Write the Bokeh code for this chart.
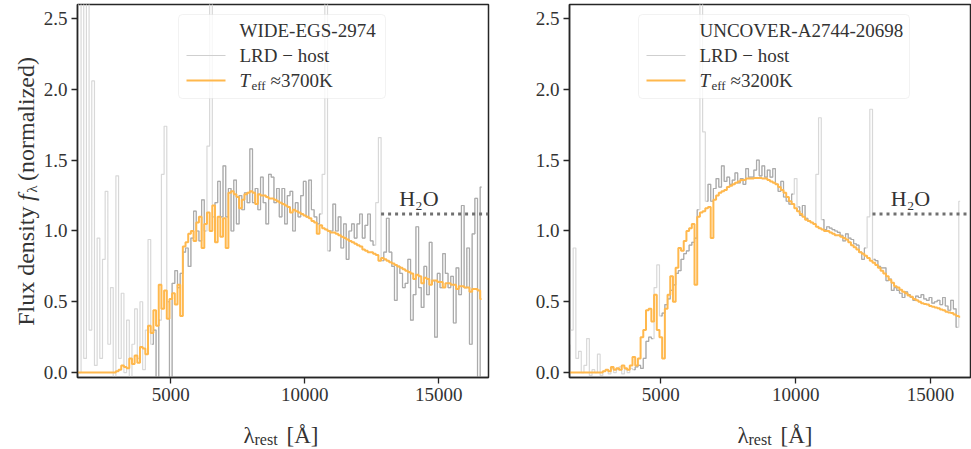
import math
import numpy as np
from bokeh.plotting import figure
from bokeh.layouts import row, column
from bokeh.models import Range1d, FixedTicker, PrintfTickFormatter, Label, BoxAnnotation
from bokeh.embed import file_html
from bokeh.resources import INLINE

# ---------------- data ----------------
wave = [
    1500, 1600, 1700, 1800, 1900, 2000, 2100, 2200, 2300, 2400,
    2500, 2600, 2700, 2800, 2900, 3000, 3100, 3200, 3300, 3400,
    3500, 3600, 3700, 3800, 3900, 4000, 4100, 4200, 4300, 4400,
    4500, 4600, 4700, 4800, 4900, 5000, 5100, 5200, 5300, 5400,
    5500, 5600, 5700, 5800, 5900, 6000, 6100, 6200, 6300, 6400,
    6500, 6600, 6700, 6800, 6900, 7000, 7100, 7200, 7300, 7400,
    7500, 7600, 7700, 7800, 7900, 8000, 8100, 8200, 8300, 8400,
    8500, 8600, 8700, 8800, 8900, 9000, 9100, 9200, 9300, 9400,
    9500, 9600, 9700, 9800, 9900, 10000, 10100, 10200, 10300, 10400,
    10500, 10600, 10700, 10800, 10900, 11000, 11100, 11200, 11300, 11400,
    11500, 11600, 11700, 11800, 11900, 12000, 12100, 12200, 12300, 12400,
    12500, 12600, 12700, 12800, 12900, 13000, 13100, 13200, 13300, 13400,
    13500, 13600, 13700, 13800, 13900, 14000, 14100, 14200, 14300, 14400,
    14500, 14600, 14700, 14800, 14900, 15000, 15100, 15200, 15300, 15400,
    15500, 15600, 15700, 15800, 15900, 16000, 16100, 16200, 16300, 16400,
    16500, 16600, 16700,
]
nan = float("nan")

# WIDE-EGS-2974
egs_lrd = [
    2.9, 0.0, 3.0, 0.1, 2.8, 0.3, 2.06, 0.05, 0.95, 0.1,
    0.8, 1.28, 0.2, 0.6, -0.05, 1.39, 0.1, 0.56, 0.0, 0.37,
    -0.05, 0.2, 0.45, 0.1, 0.5, 0.02, 0.3, 0.94, 0.2, 0.3,
    -0.05, 0.37, 1.40, 1.74, 0.5, -0.04, 0.63, 0.72, 0.6, 0.7,
    0.85, 0.88, 0.75, 0.95, 1.14, 1.0, 0.93, 1.22, 1.0, 1.6,
    3.0, 1.1, 1.2, 1.35, 1.1, 1.46, 1.1, 1.3, 1.0, 1.36,
    1.05, 1.25, 1.15, 1.27, 1.2, 1.58, 1.2, 1.3, 1.15, 1.38,
    1.2, 1.05, 1.4, 1.38, 1.2, 1.3, 1.1, 1.3, 1.05, 1.25,
    1.28, 1.0, 1.2, 1.1, 1.25, 1.35, 1.1, 1.36, 1.15, 1.1,
    1.05, 1.12, 1.4, 3.0, 0.86, 1.0, 1.19, 1.0, 1.1, 0.88,
    1.05, 0.8, 1.0, 1.05, 0.95, 1.05, 1.12, 0.95, 1.04, 1.12,
    0.93, 0.9, 1.2, 1.66, 0.79, 0.85, 1.09, 0.85, 0.75, 0.51,
    0.75, 0.70, 0.6, 0.63, 0.8, 0.37, 0.55, 1.03, 0.6, 0.46,
    0.75, 0.55, 0.92, 0.65, 0.25, 0.7, 0.6, 0.84, 0.7, 0.6,
    0.68, 0.35, 0.74, 0.55, 1.18, 0.6, 0.88, 0.2, 0.98, 1.23,
    -0.1, 1.31, nan,
]
egs_model = [
    0, 0, 0, 0, 0, 0, 0, 0, 0, 0,
    0, 0, 0, 0, 0, 0.01, 0.02, 0.05, 0.04, 0.03,
    0.10, 0.06, 0.12, 0.07, 0.18, 0.17, 0.13, 0.33, 0.28, 0.44,
    0.33, 0.62, 0.45, 0.58, 0.38, 0.52, 0.56, 0.48, 0.62, 0.40,
    0.89, 0.92, 0.98, 1.00, 0.93, 1.06, 1.10, 0.88, 1.05, 1.13,
    1.00, 1.18, 0.92, 1.10, 0.96, 1.09, 0.88, 1.27, 1.28, 1.26,
    1.24, 1.16, 1.22, 1.26, 1.27, 1.28, 1.27, 1.19, 1.26, 1.25,
    1.25, 1.24, 1.23, 1.23, 1.22, 1.21, 1.20, 1.19, 1.18, 1.17,
    1.13, 1.15, 1.14, 1.13, 1.12, 1.11, 1.10, 1.09, 1.07, 1.06,
    0.98, 1.04, 1.02, 1.01, 1.00, 0.99, 0.99, 0.98, 0.97, 0.96,
    0.95, 0.94, 0.93, 0.92, 0.91, 0.90, 0.89, 0.87, 0.86, 0.85,
    0.85, 0.84, 0.83, 0.79, 0.81, 0.80, 0.79, 0.78, 0.77, 0.76,
    0.75, 0.74, 0.73, 0.72, 0.71, 0.70, 0.66, 0.69, 0.68, 0.63,
    0.67, 0.66, 0.62, 0.65, 0.65, 0.64, 0.64, 0.60, 0.63, 0.63,
    0.62, 0.62, 0.59, 0.61, 0.61, 0.60, 0.60, 0.57, 0.59, 0.59,
    0.58, 0.52, nan,
]
egs_dark_from = 4300
egs_lines = [(4650, 4850), (6350, 6550), (10650, 10850), (12650, 12850)]

# UNCOVER-A2744-20698
unc_lrd = [
    nan, 0.2, 0.3, 0.88, 0.1, 0.15, 0.0, 0.05, 0.24, -0.02,
    0.02, 0.0, 0.13, -0.02, 0.01, 0.02, -0.01, 0.03, 0.0, 0.02,
    0.04, -0.01, 0.02, 0.0, 0.03, 0.02, 0.04, 0.05, 0.03, 0.10,
    0.22, 0.25, 0.24, 0.60, 0.76, 0.40, 0.42, 0.48, 0.52, 0.58,
    0.62, 0.70, 0.72, 0.80, 0.84, 0.86, 0.90, 0.92, 0.95, 1.15,
    3.0, 1.7, 1.21, 1.33, 1.21, 1.30, 1.37, 1.31, 1.46, 1.35,
    1.38, 1.33, 1.36, 1.41, 1.34, 1.37, 1.33, 1.44, 1.38, 1.38,
    1.43, 1.50, 1.39, 1.46, 1.38, 1.43, 1.38, 1.44, 1.33, 1.28,
    1.35, 1.24, 1.21, 1.19, 1.26, 1.37, 1.17, 1.11, 1.18, 1.09,
    1.07, 1.06, 1.05, 1.40, 1.80, 1.08, 1.01, 1.03, 1.02, 1.01,
    1.00, 0.99, 0.97, 0.93, 0.98, 0.95, 0.94, 0.91, 0.90, 0.85,
    0.80, 0.88, 1.10, 1.86, 0.80, 0.79, 0.75, 0.74, 0.74, 0.65,
    0.66, 0.58, 0.60, 0.58, 0.56, 0.53, 0.57, 0.55, 0.53, 0.51,
    0.54, 0.53, 0.55, 0.52, 0.51, 0.53, 0.49, 0.50, 0.51, 0.48,
    0.53, 0.47, 0.44, 0.51, 0.45, 0.32, 1.21, nan, nan, nan,
    nan, nan, nan,
]
unc_model = [
    nan, 0, 0, 0, 0, 0, 0, 0, 0, 0,
    0, 0, 0, 0, 0.01, 0.02, 0.01, 0.04, 0.02, 0.03,
    0.02, 0.05, 0.03, 0.02, 0.05, 0.11, 0.05, 0.10, 0.25, 0.30,
    0.44, 0.45, 0.36, 0.55, 0.30, 0.25, 0.10, 0.45, 0.55, 0.68,
    0.50, 0.74, 0.88, 0.86, 0.93, 1.00, 1.02, 1.05, 0.62, 1.10,
    1.13, 1.14, 1.16, 1.17, 0.95, 1.22, 1.25, 1.27, 1.28, 1.29,
    1.31, 1.32, 1.33, 1.34, 1.35, 1.36, 1.36, 1.37, 1.37, 1.37,
    1.375, 1.375, 1.375, 1.37, 1.37, 1.36, 1.35, 1.34, 1.33, 1.31,
    1.29, 1.27, 1.24, 1.21, 1.19, 1.16, 1.14, 1.12, 1.10, 1.08,
    1.07, 1.06, 1.05, 1.03, 1.02, 1.01, 1.00, 1.00, 0.99, 0.98,
    0.97, 0.97, 0.96, 0.95, 0.94, 0.92, 0.90, 0.885, 0.87, 0.85,
    0.84, 0.825, 0.81, 0.79, 0.775, 0.76, 0.74, 0.72, 0.70, 0.68,
    0.655, 0.635, 0.61, 0.60, 0.585, 0.57, 0.56, 0.545, 0.535, 0.52,
    0.51, 0.50, 0.49, 0.485, 0.48, 0.47, 0.465, 0.46, 0.455, 0.445,
    0.44, 0.43, 0.425, 0.42, 0.41, 0.40, 0.395, nan, nan, nan,
    nan, nan, nan,
]
unc_dark_from = 4000
unc_lines = [(4750, 4950), (6450, 6650), (9950, 10050), (10750, 10950),
             (12650, 12850), (16050, 16150)]

x_ticks = [5000, 10000, 15000]
y_ticks = [0.0, 0.5, 1.0, 1.5, 2.0, 2.5]
y_lo, y_hi = -0.035, 2.6
egs_xlim = (1517, 16860)
unc_xlim = (1614, 16484)

h2o_start = 12850
h2o_level = 1.12
h2o_label_x = 14260
h2o_label_y = 1.23

# ---------------- style / layout ----------------
FONT = "Liberation Serif"
TXT = "#333333"
FRAME = "#262626"
LIGHT = "#d8d8d8"
DARK = "#ababab"
ORANGE = "#ffb84d"
MAIN_H = 410
BORDER_TOP = 4
BORDER_BOTTOM = 33
FH = MAIN_H - BORDER_TOP - BORDER_BOTTOM  # frame height (373)


def label(p, text, x, y, size, align="left", baseline="middle", style="normal",
          angle=0.0, xu="data", yu="data", color=TXT):
    p.add_layout(Label(x=x, y=y, x_units=xu, y_units=yu, text=text,
                       text_font=FONT, text_font_size=f"{size}px",
                       text_font_style=style, text_color=color,
                       text_align=align, text_baseline=baseline, angle=angle))


def sbox(p, left, right, bottom, top, **kw):
    p.add_layout(BoxAnnotation(left=left, right=right, bottom=bottom, top=top,
                               left_units="screen", right_units="screen",
                               top_units="screen", bottom_units="screen", **kw))


def panel(lrd, model, dark_from, lines, xlim, width, bl, br, leg_left, leg_right,
          name, teff):
    p = figure(width=width, height=MAIN_H, x_range=Range1d(*xlim),
               y_range=Range1d(y_lo, y_hi), output_backend="svg",
               toolbar_location=None, min_border_left=bl, min_border_right=br,
               min_border_top=BORDER_TOP, min_border_bottom=BORDER_BOTTOM,
               background_fill_color="white", border_fill_color="white")
    p.xgrid.visible = False
    p.ygrid.visible = False
    p.outline_line_color = FRAME
    p.outline_line_width = 1.5
    for ax in (p.xaxis, p.yaxis):
        ax.axis_line_color = FRAME
        ax.axis_line_width = 1.5
        ax.major_tick_line_color = FRAME
        ax.major_tick_line_width = 1.3
        ax.major_tick_out = 6
        ax.major_tick_in = 0
        ax.minor_tick_line_color = None
        ax.major_label_text_font = FONT
        ax.major_label_text_font_size = "19px"
        ax.major_label_text_color = TXT
        ax.major_label_standoff = 4
    p.xaxis.ticker = FixedTicker(ticks=x_ticks)
    p.yaxis.ticker = FixedTicker(ticks=y_ticks)
    p.yaxis.formatter = PrintfTickFormatter(format="%.1f")

    w = np.array(wave, dtype=float)
    f = np.array(lrd, dtype=float)
    m = np.array(model, dtype=float)
    dark = f.copy()
    mask = w < dark_from
    for lo, hi in lines:
        mask |= (w > lo) & (w < hi)
    dark[mask] = np.nan

    p.step(w, f, mode="center", line_color=LIGHT, line_width=1.2)
    p.step(w, dark, mode="center", line_color=DARK, line_width=1.2)
    p.step(w, m, mode="center", line_color=ORANGE, line_width=2.0)

    # H2O band marker
    p.segment(x0=[h2o_start], y0=[h2o_level], x1=[xlim[1]], y1=[h2o_level],
              line_color="#707070", line_width=3, line_dash="3 4")
    label(p, "H₂O", h2o_label_x, h2o_label_y, 22, align="center")

    # legend (hand-built, frame-relative screen units)
    sbox(p, leg_left, leg_right, FH - 94, FH - 10, fill_color="white", fill_alpha=0.8,
         line_color="#d4d4d4", line_width=1, border_radius=4)
    hx0, hx1, tx = leg_left + 8, leg_left + 47, leg_left + 61
    r1, r2, r3 = FH - 26, FH - 51, FH - 76
    sbox(p, hx0, hx1, r2 - 0.6, r2 + 0.6, fill_color="#cfcfcf", fill_alpha=1, line_alpha=0)
    sbox(p, hx0, hx1, r3 - 1, r3 + 1, fill_color=ORANGE, fill_alpha=1, line_alpha=0)
    label(p, name, tx, r1, 19, xu="screen", yu="screen")
    label(p, "LRD − host", tx, r2, 19, xu="screen", yu="screen")
    label(p, "T", tx, r3, 19, style="italic", xu="screen", yu="screen")
    label(p, "eff", tx + 12, r3 - 5, 13, xu="screen", yu="screen")
    label(p, f"≈{teff}K", tx + 31, r3, 19, xu="screen", yu="screen")
    return p


p1 = panel(egs_lrd, egs_model, egs_dark_from, egs_lines, egs_xlim, 456, 37, 8,
           101, 308, "WIDE-EGS-2974", 3700)
p2 = panel(unc_lrd, unc_model, unc_dark_from, unc_lines, unc_xlim, 475, 73, 1,
           69, 340, "UNCOVER-A2744-20698", 3200)


def strip(width, height):
    s = figure(width=width, height=height, x_range=Range1d(0, width),
               y_range=Range1d(0, height), output_backend="svg",
               toolbar_location=None, min_border=0, x_axis_location=None,
               y_axis_location=None, outline_line_color=None)
    s.xgrid.visible = False
    s.ygrid.visible = False
    return s


# y-axis label strip (pixel coordinates, y measured from the strip bottom)
ylab = strip(40, MAIN_H)
bx = 25
yb = 188
label(ylab, "Flux density", bx, yb, 24, align="right", baseline="alphabetic",
      angle=math.pi / 2)
label(ylab, "f", bx, yb + 6, 24, baseline="alphabetic", style="italic", angle=math.pi / 2)
label(ylab, "λ", bx + 6, yb + 15, 15, baseline="alphabetic", angle=math.pi / 2)
label(ylab, "(normalized)", bx, yb + 28, 24, baseline="alphabetic", angle=math.pi / 2)

# x-axis label strip
xlab = strip(971, 449 - MAIN_H)
for lx in (243, 737):
    label(xlab, "λ", lx, 14, 23, baseline="alphabetic")
    label(xlab, "rest", lx + 11, 10, 16, baseline="alphabetic")
    label(xlab, "[Å]", lx + 43, 14, 23, baseline="alphabetic")

layout = column(row(ylab, p1, p2), xlab)
open("out.html", "w").write(file_html(layout, INLINE))
